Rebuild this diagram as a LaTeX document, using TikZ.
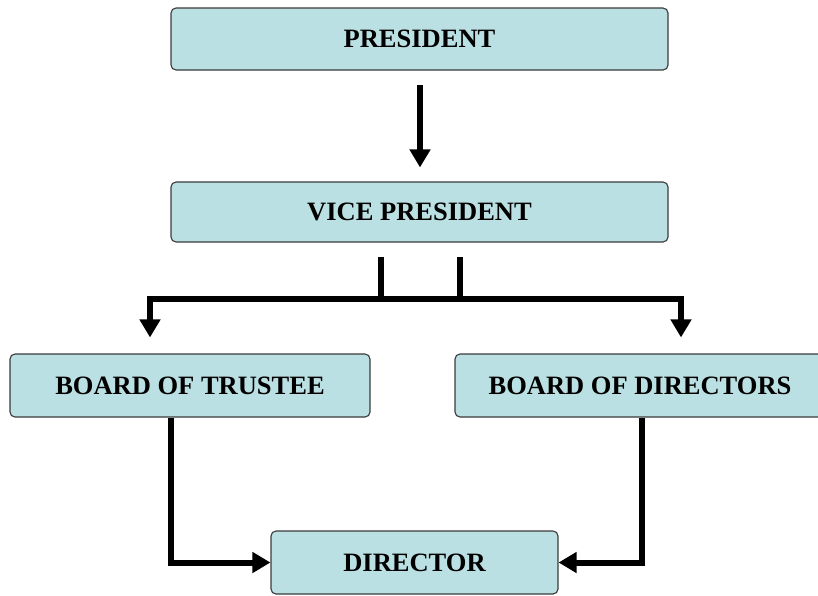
\documentclass[tikz,border=0pt]{standalone}
\usepackage{fontspec}
\setmainfont{Liberation Serif}
\usetikzlibrary{arrows.meta,calc}
\definecolor{boxfill}{HTML}{BBE0E3}
\definecolor{boxline}{HTML}{3A3A3A}
\tikzset{
  box/.style={draw=boxline, line width=1.1pt, fill=boxfill, rounded corners=5pt,
    font=\fontsize{26.5}{30}\selectfont\bfseries, inner sep=0pt, anchor=center},
  conn/.style={line width=6pt, draw=black, line join=miter},
  arr/.style={conn, -{Triangle[width=20pt,length=18pt]}}
}
\begin{document}
\begin{tikzpicture}[x=1pt,y=-1pt]
\useasboundingbox (0,0) rectangle (818,595);
\node[box, minimum width=497pt, minimum height=62pt] (pres) at (419.5,39) {PRESIDENT};
\node[box, minimum width=497pt, minimum height=60pt] (vp) at (419.5,212) {VICE PRESIDENT};
\node[box, minimum width=360pt, minimum height=63pt] (bt) at (190,385.5) {BOARD OF TRUSTEE};
\node[box, minimum width=370pt, minimum height=63pt] (bd) at (640,385.5) {BOARD OF DIRECTORS};
\node[box, minimum width=287pt, minimum height=63pt] (dir) at (414.5,562.5) {DIRECTOR};
% president -> vice president
\draw[arr] ($(pres.south)+(0.5,14)$) -- ($(vp.north)+(0.5,-14)$);
% fork
\coordinate (sL) at ($(vp.south)+(-39,14)$);
\coordinate (sR) at ($(vp.south)+(40,14)$);
\coordinate (mid) at ($(vp.south)+(0,56)$);
\coordinate (tipL) at ($(bt.north)+(-40,-16)$);
\coordinate (tipR) at ($(bd.north)+(41,-16)$);
\draw[conn] (sL) -- (sL |- mid);
\draw[conn] (sR) -- (sR |- mid);
\draw[arr] (mid) -| (tipL);
\draw[arr] (mid) -| (tipR);
% boards -> director
\draw[arr] ($(bt.south)+(-19,0)$) |- (dir.west);
\draw[arr] ($(bd.south)+(2,0)$) |- (dir.east);
\end{tikzpicture}
\end{document}
